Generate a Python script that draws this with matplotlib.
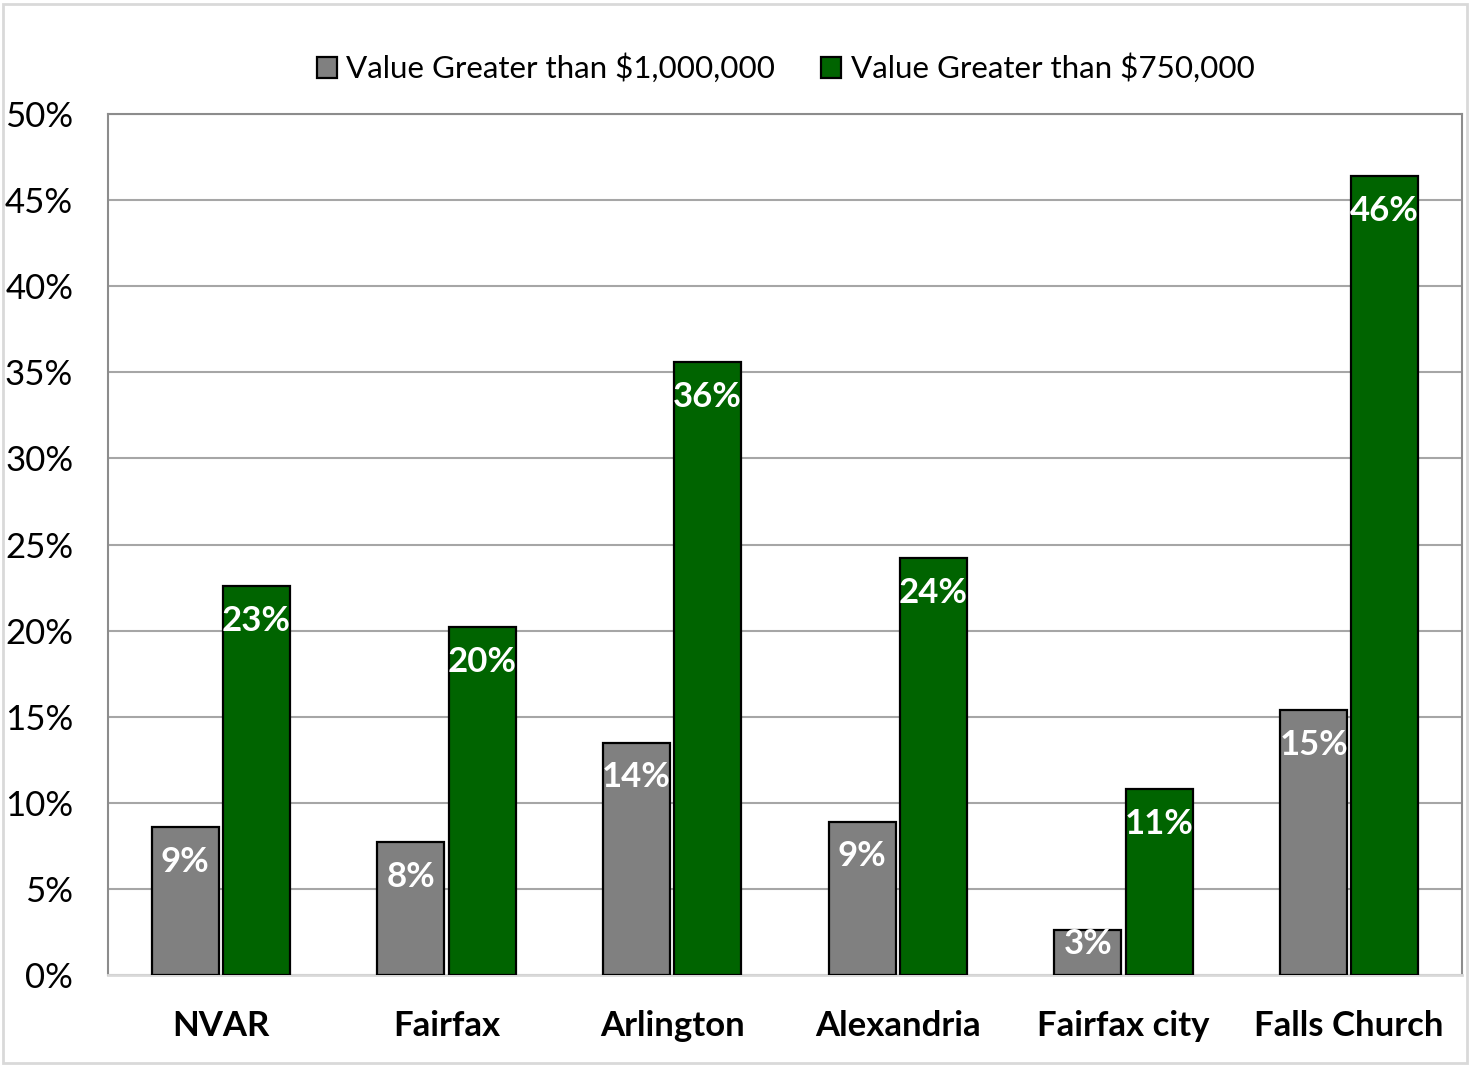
import matplotlib.pyplot as plt
import matplotlib.patches as mpatches
import numpy as np

# Chart data
categories = ['NVAR', 'Fairfax', 'Arlington', 'Alexandria', 'Fairfax city', 'Falls Church']
over_1m = [8.6, 7.7, 13.5, 8.9, 2.6, 15.4]
over_750k = [22.6, 20.2, 35.6, 24.2, 10.8, 46.4]
series_names = ['Value Greater than $1,000,000', 'Value Greater than $750,000']
yticks = [0, 5, 10, 15, 20, 25, 30, 35, 40, 45, 50]

plt.rcParams['font.family'] = ['Lato', 'DejaVu Sans']

fig = plt.figure(figsize=(14.71, 10.66), dpi=100)
ax = fig.add_axes([0.0734, 0.0854, 0.9205, 0.8076])

x = np.arange(len(categories))
w = 0.297
off = 0.1575
bars1 = ax.bar(x - off, over_1m, w, color='#808080', edgecolor='black', linewidth=1.6,
               label=series_names[0], zorder=3)
bars2 = ax.bar(x + off, over_750k, w, color='#006400', edgecolor='black', linewidth=1.6,
               label=series_names[1], zorder=3)

# value labels inside the bars, near the top (pulled up on short bars)
px_per_pct = 861 / 50
for bars, vals in [(bars1, over_1m), (bars2, over_750k)]:
    for b, v in zip(bars, vals):
        h_pt = v * px_per_pct / 1.389
        dy = min(25, h_pt - 22)
        ax.annotate(f'{v:.0f}%', (b.get_x() + b.get_width() / 2, v),
                    xytext=(0, -dy), textcoords='offset points',
                    ha='center', va='center', color='white',
                    fontsize=25, fontweight='bold', zorder=4)

ax.set_xlim(-0.5, len(categories) - 0.5)
ax.set_ylim(0, 50)
ax.set_yticks(yticks)
ax.set_yticklabels([f'{t}%' for t in yticks], fontsize=25)
ax.set_xticks(x)
ax.set_xticklabels(categories, fontsize=25, fontweight='bold')
ax.tick_params(axis='both', length=0)
ax.tick_params(axis='y', pad=25)
ax.tick_params(axis='x', pad=25)

ax.grid(axis='y', color='#a6a6a6', linewidth=1.5, zorder=0)
for s in ['left', 'right', 'top']:
    ax.spines[s].set_color('#8c8c8c')
    ax.spines[s].set_linewidth(1.5)
ax.spines['bottom'].set_color('#d9d9d9')
ax.spines['bottom'].set_linewidth(2)

fig.legend(loc='center', bbox_to_anchor=(0.534, 0.936), ncol=2, frameon=False,
           fontsize=22.6, handlelength=0.65, handleheight=0.65, handletextpad=0.3,
           columnspacing=1.45)

# light chart border
fig.patches.append(mpatches.Rectangle((0.002, 0.003), 0.995, 0.993, transform=fig.transFigure,
                                      fill=False, edgecolor='#d9d9d9', linewidth=2))

fig.savefig('out.png', dpi=100)
